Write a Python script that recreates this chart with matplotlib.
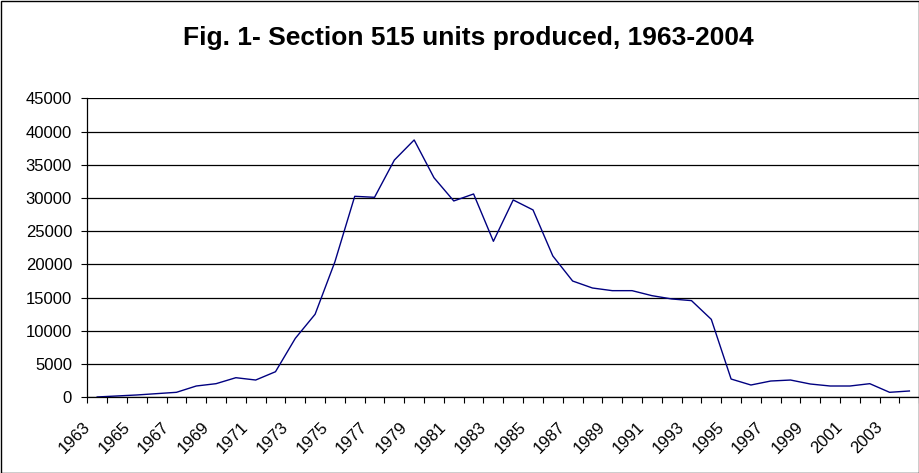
import matplotlib
matplotlib.use("Agg")
import matplotlib.pyplot as plt
from matplotlib.patches import Rectangle
from matplotlib.transforms import ScaledTranslation

years = list(range(1963, 2005))
units = [50, 200, 350, 550, 750, 1700, 2050, 2950, 2600, 3850,
         8870, 12500, 20400, 30250, 30100, 35700, 38730, 33050, 29550, 30600,
         23480, 29700, 28200, 21270, 17500, 16450, 16050, 16050, 15300, 14800,
         14550, 11730, 2750, 1850, 2450, 2600, 2000, 1700, 1700, 2050,
         750, 950]
yticks = list(range(0, 45001, 5000))
title = "Fig. 1- Section 515 units produced, 1963-2004"

plt.rcParams['font.family'] = ['Liberation Sans', 'DejaVu Sans']

fig = plt.figure(figsize=(9.2, 4.73), dpi=100)
ax = fig.add_axes([87.3 / 920, 1 - 397.3 / 473, (919.3 - 87.3) / 920, (397.3 - 98.3) / 473])

x = list(range(len(years)))
ax.plot(x, units, color="#000080", lw=1.0)

ax.set_xlim(-0.5, len(years) - 0.5)
ax.set_ylim(0, 45000)
ax.set_yticks(yticks)
ax.set_yticklabels([str(v) for v in yticks], fontsize=12)
ax.yaxis.grid(True, color="black", lw=0.9)
ax.set_axisbelow(True)

# category ticks between categories, labels every 2
ax.set_xticks([i - 0.5 for i in range(len(years) + 1)])
ax.set_xticklabels([])
ax.set_xticks(x[::2], minor=True)
ax.set_xticklabels([str(y) for y in years[::2]], minor=True, rotation=45,
                   ha="right", va="top", rotation_mode="default", fontsize=12)
ax.tick_params(axis="x", which="minor", length=0, pad=16)
ax.tick_params(axis="x", which="major", length=4, width=0.8, direction="out")
ax.tick_params(axis="y", length=4, width=0.8, direction="out", pad=7)
shift = ScaledTranslation(-3 / 72, 0, fig.dpi_scale_trans)
for lbl in ax.get_xticklabels(minor=True):
    lbl.set_transform(lbl.get_transform() + shift)

for s in ["top", "right"]:
    ax.spines[s].set_visible(False)
for s in ["left", "bottom"]:
    ax.spines[s].set_color("black")
    ax.spines[s].set_linewidth(0.9)

fig.text(468 / 920, 1 - 38.3 / 473, title, ha="center", va="center",
         fontsize=19, fontweight="bold")

fig.patches.append(Rectangle((0.5 / 920, 0.5 / 473), 918.5 / 920, 471.5 / 473,
                             transform=fig.transFigure, fill=False,
                             edgecolor="black", lw=1.0))

fig.savefig("out.png", dpi=100)
